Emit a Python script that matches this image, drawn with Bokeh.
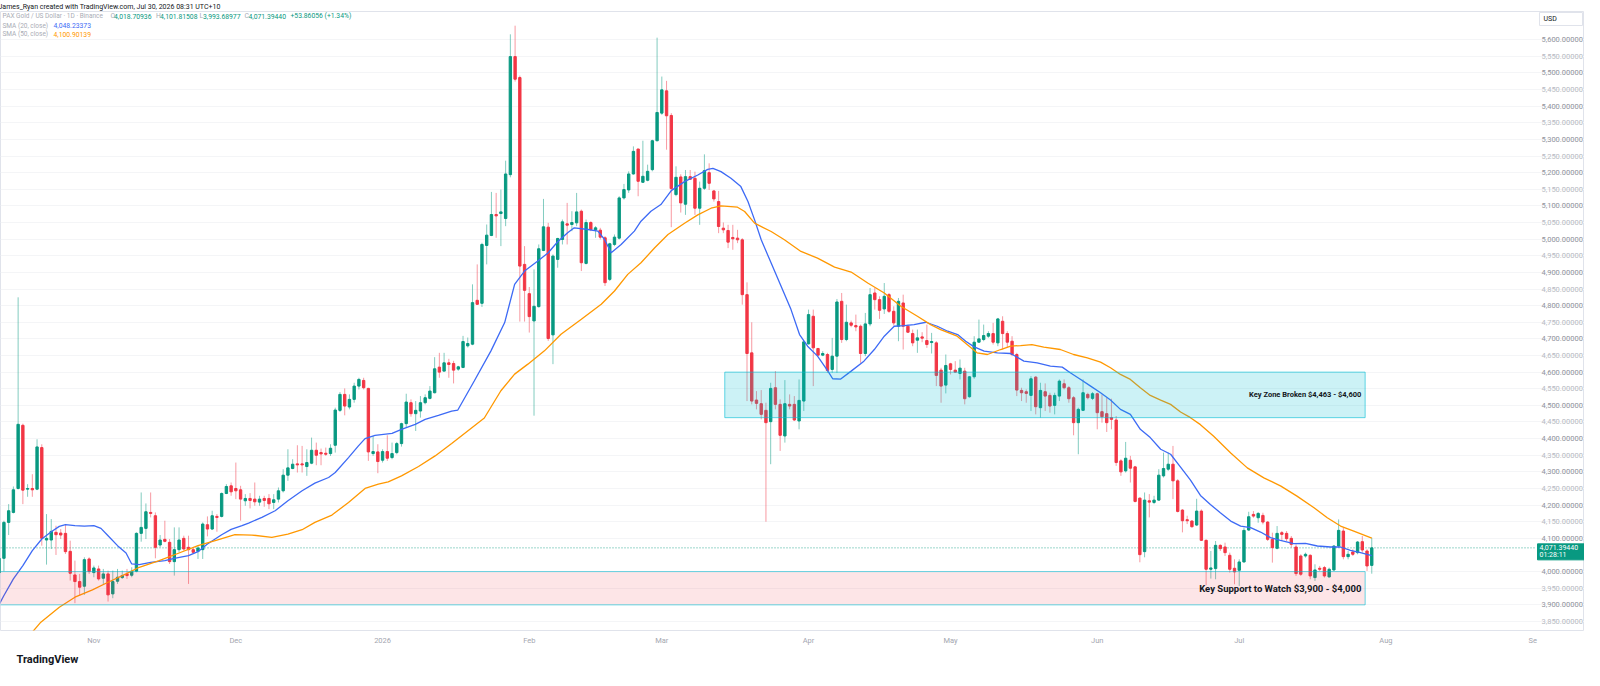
import numpy as np
import pandas as pd
from bokeh.plotting import figure
from bokeh.models import (Range1d, FixedTicker, Label, Title, ColumnDataSource)
from bokeh.core.properties import value
from bokeh.embed import file_html
from bokeh.resources import INLINE

# ---------------- data ----------------
start_date = "2025-10-12"   # first daily candle

opens = [
    3996, 4040, 4148, 4178, 4250, 4440, 4248, 4250, 4248, 4373,
    4095, 4095, 4118, 4116, 4115, 4061, 3990, 3970, 3956, 4038,
    3997, 4008, 3980, 3993, 3933, 3971, 3982, 3993, 3989, 4001,
    4115, 4130, 4178, 4168, 4080, 4097, 4088, 4030, 4066, 4100,
    4073, 4066, 4061, 4066, 4141, 4128, 4166, 4166, 4235, 4258,
    4250, 4246, 4213, 4220, 4218, 4209, 4220, 4220, 4208, 4218,
    4243, 4290, 4310, 4324, 4324, 4316, 4326, 4365, 4358, 4356,
    4355, 4380, 4485, 4533, 4495, 4518, 4558, 4575, 4551, 4355,
    4360, 4335, 4361, 4343, 4358, 4385, 4445, 4508, 4475, 4483,
    4508, 4521, 4538, 4615, 4603, 4628, 4626, 4609, 4614, 4679,
    4684, 4816, 4807, 4981, 5011, 5074, 5077, 5062, 5194, 5549,
    5486, 4924, 4836, 4754, 4797, 4966, 5036, 4712, 4939, 4999,
    5046, 5044, 5049, 5084, 4927, 5050, 5028, 5027, 5004, 4879,
    4984, 5003, 5124, 5148, 5196, 5271, 5171, 5177, 5209, 5296,
    5379, 5446, 5372, 5134, 5187, 5105, 5188, 5183, 5093, 5153,
    5200, 5145, 5113, 5033, 5026, 5005, 5003, 4998, 4833, 4658,
    4516, 4505, 4485, 4451, 4553, 4503, 4408, 4503, 4503, 4453,
    4513, 4685, 4768, 4671, 4651, 4653, 4608, 4648, 4813, 4698,
    4748, 4740, 4738, 4656, 4745, 4838, 4818, 4790, 4833, 4783,
    4738, 4808, 4738, 4716, 4696, 4706, 4695, 4689, 4688, 4606,
    4561, 4625, 4606, 4596, 4603, 4526, 4586, 4690, 4698, 4708,
    4716, 4688, 4753, 4716, 4693, 4653, 4545, 4541, 4530, 4585,
    4493, 4541, 4530, 4500, 4528, 4565, 4553, 4523, 4448, 4485,
    4533, 4521, 4535, 4481, 4475, 4463, 4456, 4333, 4303, 4335,
    4315, 4221, 4060, 4213, 4208, 4215, 4288, 4308, 4323, 4273,
    4185, 4156, 4152, 4140, 4182, 4094, 4007, 4009, 4079, 4074,
    4049, 4010, 4004, 4029, 4125, 4172, 4162, 4169, 4149, 4097,
    4070, 4117, 4115, 4100, 4074, 4047, 4047, 4049, 3982, 4010,
    4012, 3984, 4005, 4077, 4122, 4045, 4059, 4057, 4090, 4062,
    4018.70936,
]
highs = [
    4066, 4153, 4203, 4256, 4825, 4445, 4263, 4293, 4398, 4383,
    4173, 4158, 4138, 4128, 4140, 4093, 4033, 3993, 4043, 4043,
    4018, 4018, 4008, 4003, 4003, 4008, 4003, 4008, 4013, 4118,
    4238, 4205, 4238, 4178, 4110, 4153, 4098, 4133, 4133, 4108,
    4108, 4073, 4078, 4148, 4166, 4183, 4173, 4238, 4263, 4268,
    4328, 4258, 4233, 4236, 4268, 4228, 4228, 4233, 4233, 4253,
    4308, 4368, 4338, 4380, 4378, 4368, 4403, 4388, 4370, 4373,
    4383, 4493, 4540, 4551, 4533, 4568, 4583, 4583, 4553, 4408,
    4383, 4368, 4410, 4388, 4390, 4448, 4535, 4518, 4513, 4528,
    4533, 4558, 4645, 4658, 4658, 4640, 4634, 4619, 4709, 4704,
    4864, 4924, 4989, 5044, 5142, 5139, 5149, 5236, 5616, 5642,
    5492, 4979, 4856, 4909, 4984, 5121, 5049, 4954, 5004, 5059,
    5109, 5084, 5139, 5089, 5059, 5054, 5039, 5034, 5009, 4989,
    5014, 5129, 5166, 5204, 5279, 5272, 5296, 5224, 5299, 5606,
    5489, 5476, 5379, 5219, 5195, 5208, 5208, 5203, 5173, 5255,
    5228, 5148, 5145, 5050, 5043, 5043, 5028, 5003, 4870, 4750,
    4543, 4546, 4508, 4568, 4603, 4518, 4576, 4533, 4528, 4578,
    4693, 4788, 4788, 4673, 4663, 4658, 4703, 4820, 4838, 4803,
    4755, 4773, 4743, 4778, 4853, 4853, 4828, 4868, 4838, 4798,
    4823, 4833, 4743, 4728, 4728, 4720, 4743, 4718, 4693, 4613,
    4653, 4628, 4633, 4638, 4613, 4588, 4708, 4758, 4743, 4723,
    4748, 4763, 4768, 4723, 4708, 4658, 4553, 4548, 4588, 4588,
    4568, 4566, 4538, 4538, 4578, 4578, 4558, 4528, 4493, 4578,
    4538, 4540, 4538, 4533, 4523, 4520, 4468, 4338, 4390, 4348,
    4318, 4223, 4238, 4233, 4228, 4308, 4358, 4358, 4378, 4278,
    4188, 4168, 4155, 4219, 4187, 4097, 4062, 4092, 4082, 4087,
    4057, 4037, 4037, 4132, 4180, 4182, 4179, 4177, 4152, 4117,
    4137, 4122, 4122, 4107, 4082, 4052, 4057, 4052, 4022, 4017,
    4017, 4012, 4079, 4157, 4132, 4062, 4067, 4092, 4107, 4067,
    4101.81508,
]
lows = [
    3993, 4001, 4110, 4175, 4247, 4203, 4225, 4225, 4245, 4078,
    4021, 4068, 4050, 4098, 4053, 3973, 3905, 3928, 3930, 3993,
    3983, 3973, 3963, 3910, 3920, 3963, 3978, 3978, 3983, 3998,
    4090, 4098, 4163, 4040, 4073, 4088, 4023, 3988, 4058, 4063,
    3963, 4053, 4038, 4038, 4106, 4125, 4120, 4163, 4233, 4228,
    4218, 4153, 4198, 4190, 4198, 4198, 4195, 4188, 4188, 4208,
    4238, 4273, 4308, 4298, 4298, 4288, 4323, 4320, 4320, 4348,
    4348, 4358, 4480, 4470, 4488, 4508, 4548, 4548, 4333, 4348,
    4296, 4328, 4333, 4338, 4353, 4376, 4433, 4466, 4423, 4463,
    4503, 4518, 4536, 4583, 4603, 4583, 4566, 4604, 4612, 4674,
    4681, 4802, 4796, 4924, 5009, 5004, 4979, 5039, 5186, 5474,
    4752, 4752, 4719, 4469, 4794, 4964, 4694, 4624, 4914, 4984,
    4984, 5024, 5039, 4904, 4924, 5024, 5004, 4999, 4859, 4874,
    4979, 4999, 5119, 5139, 5194, 5129, 5169, 5174, 5204, 5294,
    5374, 5269, 5036, 5129, 5080, 5073, 5178, 5073, 5043, 5148,
    5148, 5113, 5018, 5018, 4973, 4968, 4988, 4803, 4513, 4503,
    4488, 4458, 4150, 4323, 4488, 4363, 4388, 4488, 4453, 4428,
    4483, 4683, 4558, 4648, 4648, 4598, 4598, 4598, 4688, 4693,
    4735, 4723, 4628, 4648, 4738, 4788, 4760, 4775, 4778, 4740,
    4693, 4668, 4718, 4678, 4658, 4690, 4673, 4656, 4558, 4508,
    4536, 4593, 4598, 4578, 4503, 4523, 4580, 4688, 4693, 4703,
    4683, 4678, 4668, 4673, 4648, 4528, 4513, 4508, 4483, 4473,
    4463, 4483, 4478, 4473, 4513, 4548, 4508, 4410, 4353, 4483,
    4518, 4516, 4428, 4448, 4420, 4428, 4318, 4288, 4298, 4268,
    4208, 4028, 4043, 4163, 4203, 4213, 4283, 4303, 4218, 4178,
    4118, 4143, 4132, 4137, 4092, 3959, 3979, 3977, 4062, 4047,
    3997, 3962, 3957, 4027, 4122, 4162, 4147, 4142, 4092, 4027,
    4067, 4092, 4092, 4072, 3987, 3987, 4042, 3977, 3972, 4002,
    3982, 3982, 4002, 4072, 4037, 4037, 4047, 4052, 4057, 4002,
    3993.68977,
]
closes = [
    4040, 4148, 4183, 4246, 4443, 4245, 4250, 4246, 4375, 4100,
    4100, 4121, 4111, 4110, 4060, 3995, 3970, 3953, 4036, 4000,
    4011, 3978, 3993, 3930, 3970, 3983, 3988, 3988, 4001, 4115,
    4133, 4180, 4175, 4073, 4095, 4091, 4030, 4066, 4095, 4068,
    4066, 4058, 4071, 4143, 4128, 4168, 4163, 4235, 4256, 4240,
    4243, 4218, 4220, 4214, 4210, 4218, 4214, 4204, 4216, 4243,
    4290, 4312, 4323, 4321, 4321, 4328, 4365, 4350, 4354, 4353,
    4371, 4486, 4533, 4498, 4518, 4558, 4578, 4553, 4360, 4361,
    4331, 4361, 4341, 4355, 4385, 4445, 4510, 4475, 4485, 4508,
    4523, 4543, 4610, 4600, 4628, 4623, 4606, 4616, 4692, 4686,
    4809, 4804, 4984, 5012, 5074, 5070, 5082, 5196, 5549, 5481,
    4919, 4846, 4767, 4798, 4971, 5037, 4701, 4949, 5002, 5052,
    5042, 5050, 5082, 4929, 5050, 5029, 5034, 5006, 4869, 4986,
    5006, 5124, 5149, 5196, 5264, 5174, 5189, 5204, 5296, 5381,
    5449, 5371, 5152, 5186, 5109, 5188, 5180, 5093, 5153, 5206,
    5168, 5121, 5038, 5028, 4991, 5001, 4998, 4833, 4656, 4513,
    4506, 4473, 4448, 4551, 4503, 4410, 4505, 4498, 4456, 4515,
    4691, 4773, 4673, 4651, 4656, 4605, 4648, 4811, 4698, 4750,
    4741, 4736, 4656, 4745, 4833, 4818, 4786, 4828, 4783, 4748,
    4813, 4738, 4720, 4688, 4703, 4702, 4683, 4692, 4590, 4558,
    4620, 4608, 4600, 4612, 4520, 4586, 4690, 4700, 4710, 4716,
    4690, 4760, 4716, 4690, 4653, 4546, 4538, 4536, 4580, 4496,
    4545, 4528, 4498, 4530, 4573, 4553, 4520, 4448, 4488, 4538,
    4523, 4535, 4478, 4466, 4448, 4458, 4328, 4300, 4341, 4311,
    4211, 4051, 4215, 4209, 4215, 4290, 4310, 4323, 4273, 4181,
    4153, 4153, 4135, 4182, 4094, 4007, 4011, 4079, 4069, 4057,
    4007, 3999, 4029, 4124, 4165, 4167, 4175, 4149, 4097, 4072,
    4115, 4112, 4099, 4082, 3994, 3992, 4052, 3987, 4005, 4007,
    3987, 4007, 4077, 4124, 4045, 4052, 4052, 4089, 4065, 4017,
    4071.39440,
]

sma20_n = [0.6, 2, 4, 6, 8, 10, 12, 13.7, 15, 17, 19, 21, 22.5, 24, 26, 27.8, 29, 30.6,
           33, 36, 38, 41, 43, 45, 48, 50, 52.3, 53.7, 56.5, 59.3, 62, 65, 67.7, 70.6,
           72, 74.8, 76.9, 78.3, 80.4, 84, 86, 88.9, 91, 93.8, 96.6, 97.9, 101.4, 104.9,
           107.8, 109.9, 112, 114.8, 117, 119, 121.1, 122.5, 125.4, 127.5, 128.9, 130.3,
           132.4, 135.2, 136.6, 138.7, 140.8, 143, 145.8, 148.6, 150.7, 151.8, 153.5,
           155.6, 157.7, 159.2, 160.6, 162, 164.1, 166.2, 168.3, 170.1, 171.8, 173.9,
           176.1, 177.1, 178.8, 181, 183.7, 185.9, 188, 190.1, 192.2, 194.3, 196.8,
           199.2, 201.4, 203.5, 205.2, 207, 209.1, 211.9, 214.7, 217.5, 220.3, 223.1,
           225.6, 227.3, 229.5, 231.6, 233.7, 235.8, 237.9, 240, 242.1, 244.2, 246.4,
           248.5, 250.6, 252.7, 254.8, 256.9, 259, 261.2, 263.3, 265.4, 267.5, 269.6,
           271.7, 274.5, 277, 279.5, 282.3, 284.4, 286.5, 288.6, 291]
sma20_v = [3891, 3928, 3978, 4018, 4063, 4098, 4120, 4136, 4141, 4138, 4137, 4138, 4130,
           4108, 4078, 4056, 4023, 4021, 4028, 4033, 4040, 4048, 4060, 4083, 4111, 4127,
           4138, 4146, 4163, 4183, 4213, 4243, 4266, 4283, 4298, 4343, 4378, 4400, 4410,
           4416, 4428, 4443, 4458, 4470, 4483, 4486, 4574, 4664, 4749, 4864, 4904, 4934,
           4959, 4992, 5019, 5034, 5029, 5024, 4999, 4959, 4984, 5024, 5054, 5084, 5104,
           5146, 5173, 5193, 5210, 5213, 5203, 5183, 5158, 5113, 5058, 4998, 4928, 4858,
           4788, 4713, 4678, 4648, 4603, 4580, 4579, 4603, 4633, 4668, 4708, 4738, 4740,
           4743, 4750, 4738, 4723, 4713, 4693, 4676, 4663, 4658, 4656, 4633, 4628, 4618,
           4615, 4598, 4578, 4558, 4538, 4516, 4488, 4473, 4428, 4403, 4368, 4353, 4314,
           4275, 4229, 4202, 4177, 4152, 4137, 4132, 4119, 4102, 4094, 4084, 4085, 4077,
           4074, 4074, 4064, 4057, 4048.23373]

sma50_n = [8, 9.8, 13.7, 17, 20.7, 24, 27.8, 30.6, 34.8, 39, 43, 47, 50.8, 54.4, 58.6, 62,
           65, 67.7, 71.3, 74.8, 78.3, 81.1, 83.2, 86, 89.6, 93.1, 96.6, 103.5, 107, 109.9,
           112.7, 116.2, 119.7, 124, 128.2, 131, 133.8, 136.6, 139.5, 142.3, 145.8, 148.6,
           151.4, 153.5, 157, 158.5, 160.6, 164.1, 166.9, 170.4, 173.9, 177.5, 181, 184.5,
           188, 191.5, 195, 197.8, 199.9, 203.4, 205.5, 207.6, 209.8, 212.6, 214.7, 216.8,
           219.2, 221.7, 225.2, 228, 230.9, 233.7, 235.8, 237.9, 240, 242.1, 244.2, 246.4,
           248.5, 250.6, 252.7, 254.8, 257.6, 261.2, 264.7, 268.2, 271.8, 275.2, 278.8,
           281.6, 284.4, 287.2, 291]
sma50_v = [3818, 3848, 3893, 3923, 3945, 3968, 3993, 4013, 4033, 4056, 4078, 4095, 4111,
           4110, 4103, 4113, 4126, 4148, 4170, 4208, 4250, 4263, 4270, 4288, 4316, 4348,
           4385, 4462, 4544, 4594, 4624, 4664, 4714, 4759, 4804, 4844, 4894, 4929, 4974,
           5014, 5048, 5073, 5093, 5100, 5096, 5083, 5048, 5023, 4998, 4963, 4943, 4916,
           4901, 4868, 4838, 4798, 4768, 4743, 4728, 4708, 4683, 4658, 4653, 4668, 4678,
           4680, 4683, 4675, 4668, 4653, 4643, 4630, 4613, 4593, 4578, 4553, 4530, 4516,
           4503, 4480, 4463, 4442, 4407, 4357, 4312, 4282, 4257, 4227, 4192, 4162, 4137,
           4122, 4100.90139]

month_starts = ["2025-11-01", "2025-12-01", "2026-01-01", "2026-02-01", "2026-03-01",
                "2026-04-01", "2026-05-01", "2026-06-01", "2026-07-01", "2026-08-01",
                "2026-09-01"]
month_labels = ["Nov", "Dec", "2026", "Feb", "Mar", "Apr", "May", "Jun", "Jul", "Aug", "Se"]

# price scale (4,050 sits under the price tag)
price_ticks = [3850, 3900, 3950, 4000, 4100, 4150, 4200, 4250, 4300, 4350, 4400, 4450,
               4500, 4550, 4600, 4650, 4700, 4750, 4800, 4850, 4900, 4950, 5000, 5050,
               5100, 5150, 5200, 5250, 5300, 5350, 5400, 5450, 5500, 5550, 5600]

zone_broken = [4463, 4600]
zone_support = [3900, 4000]
zone_broken_text = "Key Zone Broken $4,463 - $4,600"
zone_support_text = "Key Support to Watch $3,900 - $4,000"

header_text = "James_Ryan created with TradingView.com, Jul 30, 2026 08:31 UTC+10"
symbol_text = "PAX Gold / US Dollar · 1D · Binance"
last_change = "+53.86056 (+1.34%)"
countdown = "01:28:11"
currency = "USD"
brand_text = "TradingView"

# ---------------- derived ----------------
start = pd.Timestamp(start_date)
n = len(closes)
xi = np.arange(n, dtype=float)
up = [c >= o for o, c in zip(opens, closes)]
GREEN, RED = "#089981", "#f23645"
BLUE, ORANGE = "#3d6af5", "#ff9800"
colors = [GREEN if u else RED for u in up]
src = ColumnDataSource(dict(
    x=xi, h=highs, l=lows,
    top=[max(o, c) for o, c in zip(opens, closes)],
    bottom=[min(o, c) for o, c in zip(opens, closes)],
    color=colors))

month_idx = [int((pd.Timestamp(m) - start).days) for m in month_starts]
fmt = lambda v: f"{v:,.5f}"

# ---------------- layout constants ----------------
W, H = 1584, 670
BORDER_T, BORDER_B = 10, 40
FRAME_H = H - BORDER_T - BORDER_B
PX_PER_DAY = 4.733
PX_PER_USD = 0.333
CHART_W = 1535            # candle area; the price scale strip is the last 49 px
X0 = 0.275
X_END = X0 + W / PX_PER_DAY
X_AREA = X0 + CHART_W / PX_PER_DAY
Y_END = 5684.7
Y0 = Y_END - FRAME_H / PX_PER_USD
FONT = "Roboto"


def dx(px):
    return px / PX_PER_DAY


def dy(px):
    return px / PX_PER_USD


p = figure(width=W, height=H, output_backend="svg", toolbar_location=None,
           x_range=Range1d(X0, X_END), y_range=Range1d(Y0, Y_END),
           y_axis_location=None,
           min_border_left=0, min_border_right=0, min_border_top=BORDER_T,
           min_border_bottom=BORDER_B,
           background_fill_color="white", border_fill_color="white")
p.outline_line_color = "#e0e3eb"

# header (title above the frame)
p.title.text = header_text
p.title.text_font = FONT
p.title.text_font_size = "7px"
p.title.text_font_style = "normal"
p.title.text_color = "#131722"
p.title.align = "left"
p.title.standoff = 1
p.title.offset = -2

# footer brand
p.add_layout(Title(text=brand_text, text_font=FONT, text_font_size="11px",
                   text_font_style="bold", text_color="#131722", align="left",
                   offset=16, standoff=7), "below")

# time axis
xa = p.xaxis[0]
xa.ticker = FixedTicker(ticks=month_idx)
xa.major_label_overrides = {k: v for k, v in zip(month_idx, month_labels)}
xa.axis_line_color = None
xa.major_tick_line_color = None
xa.minor_tick_line_color = None
xa.major_tick_out = 0
xa.major_tick_in = 0
xa.minor_tick_out = 0
xa.minor_tick_in = 0
xa.major_label_text_font = FONT
xa.major_label_text_font_size = "7.5px"
xa.major_label_text_color = "#a3a6af"
xa.major_label_standoff = 5
p.xgrid.grid_line_color = None
yg = p.ygrid[0]
yg.ticker = FixedTicker(ticks=price_ticks)
yg.grid_line_color = "#f4f5f7"
yg.bounds = (X0, X_AREA)

# price scale labels on the right strip
scale_x = X_AREA + dx(6)
p.text(x=[scale_x] * len(price_ticks), y=price_ticks, text=[fmt(v) for v in price_ticks],
       text_color=["#8f929b" if v % 100 == 0 else "#b7bac2" for v in price_ticks],
       text_font=value(FONT), text_font_size="7.5px", text_baseline="middle",
       text_align="left")

# current price line
p.segment(x0=[X0], y0=[closes[-1]], x1=[X_AREA], y1=[closes[-1]], line_color=GREEN,
          line_dash="1 2", line_alpha=0.8, line_width=1)

# candles
p.segment(x0="x", y0="h", x1="x", y1="l", line_color="color", line_alpha=0.5,
          line_width=1, source=src)
p.vbar(x="x", width=0.5, top="top", bottom="bottom", fill_color="color",
       line_color="color", line_width=1, source=src)

# SMA lines
p.line([v - 1 for v in sma20_n], sma20_v, line_color=BLUE, line_width=1.3)
p.line([v - 1 for v in sma50_n], sma50_v, line_color=ORANGE, line_width=1.3)

# zones (drawn above the series like TradingView drawings)
zone_right = 288.6
p.quad(left=[153.3], right=[zone_right], bottom=[zone_broken[0]], top=[zone_broken[1]],
       fill_color="#00bcd4", fill_alpha=0.2, line_color="#00bcd4", line_alpha=0.6,
       line_width=1)
p.quad(left=[-3], right=[zone_right], bottom=[zone_support[0]], top=[zone_support[1]],
       fill_color="#f23645", fill_alpha=0.13, line_color="#00bcd4", line_alpha=0.6,
       line_width=1)
p.add_layout(Label(x=zone_right - 0.8, y=sum(zone_broken) / 2, text=zone_broken_text,
                   text_align="right", text_baseline="middle", text_font=FONT,
                   text_font_size="7.5px", text_font_style="bold", text_color="#131722"))
p.add_layout(Label(x=zone_right - 0.8, y=sum(zone_support) / 2, text=zone_support_text,
                   text_align="right", text_baseline="middle", text_font=FONT,
                   text_font_size="9.5px", text_font_style="bold", text_color="#131722"))


# legend texts: x in px from the frame's left, y in px below the frame's top
def lab(x, y_from_top, text, color, size="6.8px"):
    p.add_layout(Label(x=x, y=Y_END - dy(y_from_top), x_units="screen", y_units="data",
                       text=text, text_font=FONT, text_font_size=size,
                       text_color=color, text_baseline="middle", text_align="left"))


GRAY = "#a9acb5"
ly1, ly2, ly3 = 4.7, 14.3, 22.7
lab(2, ly1, symbol_text, GRAY, size="6.5px")
for letter, val, xl, xv in (("O", opens[-1], 110, 113.5), ("H", highs[-1], 155.5, 159.5),
                            ("L", lows[-1], 199, 202.5), ("C", closes[-1], 244, 248)):
    lab(xl, ly1, letter, GRAY)
    lab(xv, ly1, fmt(val), GREEN)
lab(290, ly1, last_change, GREEN)
lab(2, ly2, "SMA (20, close)", GRAY, size="6.5px")
lab(53, ly2, fmt(sma20_v[-1]), BLUE)
lab(2, ly3, "SMA (50, close)", GRAY, size="6.5px")
lab(53, ly3, fmt(sma50_v[-1]), ORANGE)

# price tag on the price scale
tag_l = X_AREA + dx(2)
p.quad(left=[tag_l], right=[X_END], top=[closes[-1] + dy(4)], bottom=[closes[-1] - dy(12)],
       fill_color=GREEN, line_color=GREEN)
p.text(x=[tag_l + dx(2), tag_l + dx(2)], y=[closes[-1], closes[-1] - dy(7.5)],
       text=[fmt(closes[-1]), countdown], text_color="white",
       text_font=value(FONT), text_font_size="7px", text_baseline="middle",
       text_align="left")
# currency box at the top of the price scale
usd_l = X_AREA + dx(4)
p.quad(left=[usd_l], right=[X_END - dx(2)], top=[Y_END - dy(1)], bottom=[Y_END - dy(14)],
       fill_color="white", line_color="#e0e3eb", line_width=1)
p.text(x=[usd_l + dx(4)], y=[Y_END - dy(7.5)], text=[currency], text_color="#131722",
       text_font=value(FONT), text_font_size="7px", text_baseline="middle",
       text_align="left")

open("out.html", "w").write(file_html(p, INLINE))
